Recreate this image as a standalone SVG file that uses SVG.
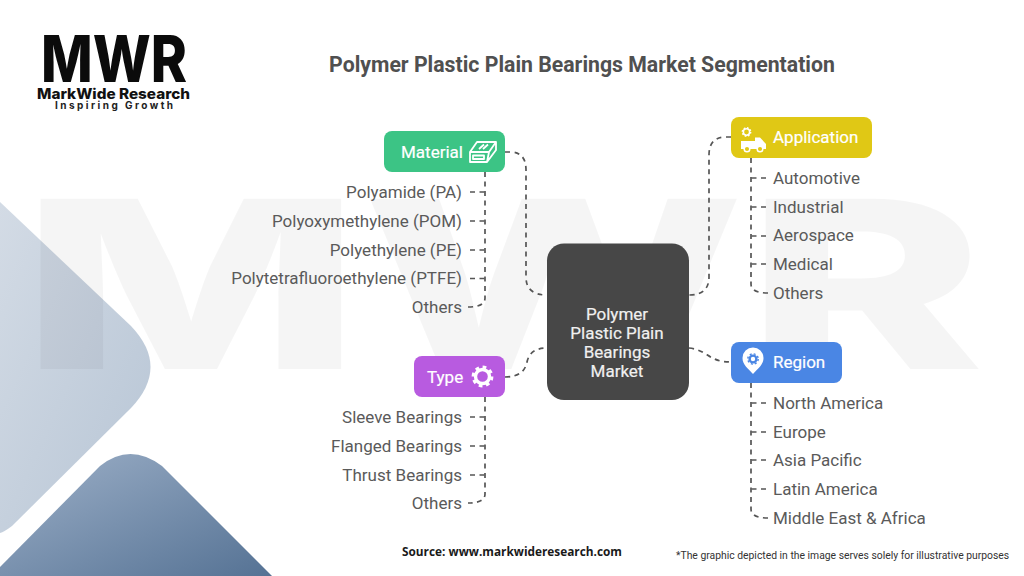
<svg xmlns="http://www.w3.org/2000/svg" width="1024" height="576" viewBox="0 0 1024 576">
<style>
.item{font-family:Roboto,"Liberation Sans",sans-serif;font-size:17px;fill:#5a5a5a}
.end{text-anchor:end}
.head{font-family:Roboto,"Liberation Sans",sans-serif;font-size:17px;font-weight:400;fill:#fff;stroke:#fff;stroke-width:.2}
.mid{font-family:Roboto,"Liberation Sans",sans-serif;font-size:17px;font-weight:400;fill:#f0f0f0;text-anchor:middle;stroke:#f0f0f0;stroke-width:.2}
.conn{fill:none;stroke:#555;stroke-width:1.7;stroke-dasharray:5 4.500}
.ico{fill:#fff}
.line{fill:none;stroke:#fff;stroke-width:1.800;stroke-linejoin:round}
</style>
<defs>
<linearGradient id="g1" x1="0" y1="0" x2="1" y2="1"><stop offset="0" stop-color="#d3dbe5"/><stop offset="1" stop-color="#b7c5d5"/></linearGradient>
<linearGradient id="g2" x1="0" y1="0" x2="1" y2="1"><stop offset="0" stop-color="#9db0c8"/><stop offset="1" stop-color="#557294"/></linearGradient>
<g id="gear"><circle r="7" fill="none" stroke="#fff" stroke-width="3.400"/><circle r="9.200" fill="none" stroke="#fff" stroke-width="3.400" stroke-dasharray="3.600 3.600"/></g>
</defs>
<rect width="1024" height="576" fill="#fff"/>
<path id="bg-light" d="M0 202 L131 326 Q170 367 131 408 L12 526 Q4 532 0 533 Z" fill="url(#g1)"/>
<path id="bg-dark" d="M0 567 L100 466 Q130 442 162 466 L272 576 L0 576 Z" fill="url(#g2)"/>
<text id="watermark" x="20" y="369" font-family="Inter,'Liberation Sans',sans-serif" font-weight="800" font-size="234" textLength="965" lengthAdjust="spacingAndGlyphs" fill="#000" fill-opacity="0.04">MWR</text>
<g id="logo">
<text x="41" y="82" font-family="Inter,'Liberation Sans',sans-serif" font-weight="800" font-size="64" textLength="146" lengthAdjust="spacingAndGlyphs" fill="#0b0b0b">MWR</text>
<text x="37" y="99" font-family="Inter,'Liberation Sans',sans-serif" font-weight="800" font-size="14.500" textLength="153" lengthAdjust="spacingAndGlyphs" fill="#111">MarkWide Research</text>
<text x="55" y="109" font-family="Inter,'Liberation Sans',sans-serif" font-weight="700" font-size="10" textLength="118" fill="#222">Inspiring Growth</text>
</g>
<text id="title" x="582" y="71.500" text-anchor="middle" font-family="Roboto,'Liberation Sans',sans-serif" font-weight="700" font-size="21.250" fill="#505050">Polymer Plastic Plain Bearings Market Segmentation</text>
<g id="connectors" class="conn">
<path d="M505 152 H510 Q526 152 526 170 V277 Q526 295 547 295"/>
<path d="M731 137 H726 Q709 137 709 155 V277 Q709 295 689 295"/>
<path d="M505 377 Q524 377 527 362 Q530 348 547 348"/>
<path d="M689 348 C708 350 708 362 731 362"/>
<path d="M485 172 V298 Q485 307 468 307"/>
<path d="M470 192 H485M470 221 H485M470 250 H485M470 278.500 H485"/>
<path d="M751 158 V284 Q751 293 768 293"/>
<path d="M766 178 H751M766 207 H751M766 236 H751M766 264 H751"/>
<path d="M485 397 V494 Q485 503 468 503"/>
<path d="M470 417 H485M470 446 H485M470 475 H485"/>
<path d="M751 383 V509 Q751 518 768 518"/>
<path d="M766 403 H751M766 432 H751M766 460 H751M766 489 H751"/>
</g>
<g id="center">
<rect x="547" y="243.500" width="142" height="156.500" rx="17" fill="#474747"/>
<text class="mid" x="617" y="320">Polymer</text>
<text class="mid" x="617" y="339">Plastic Plain</text>
<text class="mid" x="617" y="358">Bearings</text>
<text class="mid" x="617" y="377">Market</text>
</g>
<g id="material">
<rect x="384" y="131" width="121" height="41" rx="8" fill="#3cc485"/>
<text class="head" x="401" y="157.500">Material</text>
<path class="line" d="M477 142 L496 142 L489 152 L470 152 Z M470 152 V162 H487 L489 152 M487 162 L496 150 V142 M473 155.500 H484 V159 H473 Z M479 149 L484 144.500 M483 149 L488 144.500"/>
</g>
<g id="application">
<rect x="731" y="117" width="141" height="41" rx="8" fill="#e0c815"/>
<text class="head" x="773" y="143">Application</text>
<use href="#gear" transform="translate(746.500 132) scale(.45)"/>
<path class="ico" d="M741 141 H755 V137.500 H760 L766 144 V149 H741 Z"/>
<circle cx="747" cy="149" r="2.800" fill="#e0c815" stroke="#fff" stroke-width="1.500"/>
<circle cx="760" cy="149" r="2.800" fill="#e0c815" stroke="#fff" stroke-width="1.500"/>
</g>
<g id="type">
<rect x="414" y="356" width="91" height="41" rx="8" fill="#b85be0"/>
<text class="head" x="427" y="382.500">Type</text>
<use href="#gear" transform="translate(482.500 376.500)"/>
</g>
<g id="region">
<rect x="731" y="342" width="111" height="41" rx="8" fill="#4a86e4"/>
<text class="head" x="773" y="368">Region</text>
<path class="ico" d="M753 374 C748 368 742.500 365 742.500 358 A10.500 10.500 0 0 1 763.500 358 C763.500 365 758 368 753 374 Z"/>
<circle cx="753" cy="359" r="3.400" fill="none" stroke="#4a86e4" stroke-width="2.400"/>
<circle cx="753" cy="359" r="5.200" fill="none" stroke="#4a86e4" stroke-width="1.400" stroke-dasharray="2 2.100"/>
</g>
<g id="material-items">
<text class="item end" x="462" y="198">Polyamide (PA)</text>
<text class="item end" x="462" y="227">Polyoxymethylene (POM)</text>
<text class="item end" x="462" y="255.500">Polyethylene (PE)</text>
<text class="item end" x="462" y="284">Polytetrafluoroethylene (PTFE)</text>
<text class="item end" x="462" y="313">Others</text>
</g>
<g id="application-items">
<text class="item" x="773" y="183.500">Automotive</text>
<text class="item" x="773" y="212.500">Industrial</text>
<text class="item" x="773" y="241">Aerospace</text>
<text class="item" x="773" y="270">Medical</text>
<text class="item" x="773" y="298.500">Others</text>
</g>
<g id="type-items">
<text class="item end" x="462" y="423">Sleeve Bearings</text>
<text class="item end" x="462" y="451.500">Flanged Bearings</text>
<text class="item end" x="462" y="480.500">Thrust Bearings</text>
<text class="item end" x="462" y="509">Others</text>
</g>
<g id="region-items">
<text class="item" x="773" y="408.500">North America</text>
<text class="item" x="773" y="437.500">Europe</text>
<text class="item" x="773" y="466">Asia Pacific</text>
<text class="item" x="773" y="495">Latin America</text>
<text class="item" x="773" y="523.500">Middle East &amp; Africa</text>
</g>
<text id="source" x="402" y="555.500" font-family="'Open Sans','Liberation Sans',sans-serif" font-weight="700" font-size="12.500" textLength="220" lengthAdjust="spacingAndGlyphs" fill="#1a1a1a">Source: www.markwideresearch.com</text>
<text id="note" x="676" y="559" font-family="Roboto,'Liberation Sans',sans-serif" font-size="10.370" fill="#333">*The graphic depicted in the image serves solely for illustrative purposes</text>
</svg>
